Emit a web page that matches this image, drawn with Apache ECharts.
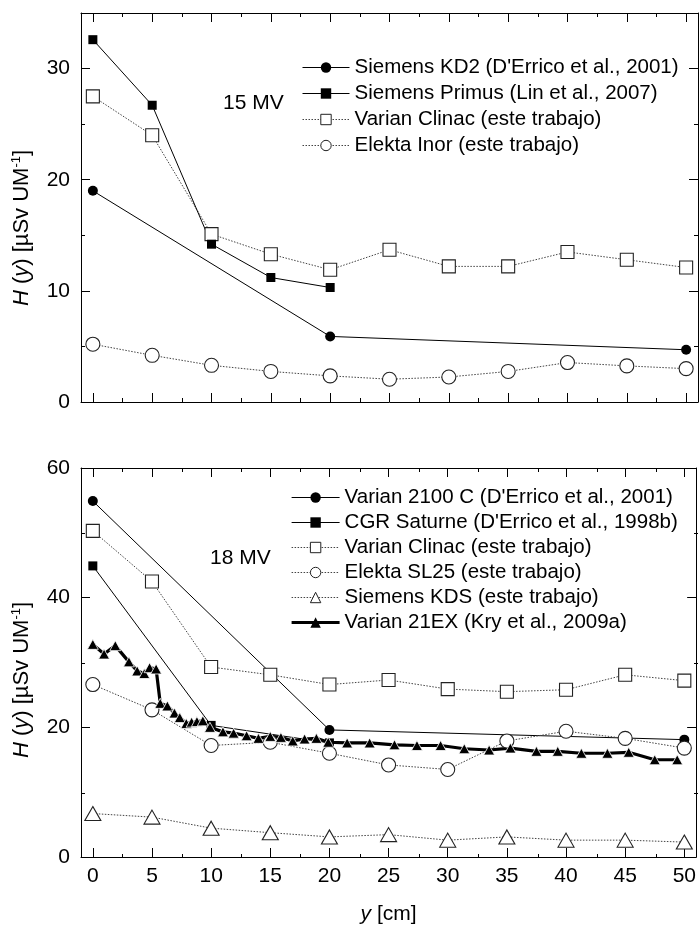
<!DOCTYPE html>
<html>
<head>
<meta charset="utf-8">
<script src="https://cdn.jsdelivr.net/npm/echarts@6/dist/echarts.min.js"></script>
<style>
html,body{margin:0;padding:0;background:#fff;}
#c{width:699px;height:926px;}
</style>
</head>
<body>
<div id="c"></div>
<script>
// ---------- tick values ----------
const xTicks = [0, 5, 10, 15, 20, 25, 30, 35, 40, 45, 50];
const xMinorTicks = [2.5, 7.5, 12.5, 17.5, 22.5, 27.5, 32.5, 37.5, 42.5, 47.5];
const yTicksTop = [0, 10, 20, 30];
const yMinorTop = [5, 15, 25];
const yTicksBottom = [0, 20, 40, 60];
const yMinorBottom = [10, 30, 50];

// ---------- 15 MV ----------
const kd2X = [0, 20, 50];
const kd2Y = [19.0, 5.9, 4.7];
const primusX = [0, 5, 10, 15, 20];
const primusY = [32.6, 26.7, 14.2, 11.2, 10.3];
const clinac15X = [0, 5, 10, 15, 20, 25, 30, 35, 40, 45, 50];
const clinac15Y = [27.5, 24.0, 15.1, 13.3, 11.9, 13.7, 12.2, 12.2, 13.5, 12.8, 12.1];
const inorX = [0, 5, 10, 15, 20, 25, 30, 35, 40, 45, 50];
const inorY = [5.2, 4.2, 3.3, 2.75, 2.35, 2.05, 2.25, 2.75, 3.55, 3.25, 3.0];

// ---------- 18 MV ----------
const v2100X = [0, 20, 50];
const v2100Y = [54.9, 19.6, 18.1];
const cgrX = [0, 10, 20];
const cgrY = [44.9, 20.3, 17.6];
const clinac18X = [0, 5, 10, 15, 20, 25, 30, 35, 40, 45, 50];
const clinac18Y = [50.3, 42.5, 29.3, 28.1, 26.6, 27.3, 25.9, 25.5, 25.8, 28.1, 27.2];
const sl25X = [0, 5, 10, 15, 20, 25, 30, 35, 40, 45, 50];
const sl25Y = [26.6, 22.7, 17.2, 17.7, 16.0, 14.2, 13.5, 17.9, 19.4, 18.3, 16.8];
const kdsX = [0, 5, 10, 15, 20, 25, 30, 35, 40, 45, 50];
const kdsY = [6.7, 6.15, 4.45, 3.75, 3.1, 3.45, 2.6, 3.1, 2.6, 2.6, 2.3];
const ex21X = [0, 0.95, 1.9, 3.05, 3.75, 4.35, 4.8, 5.35, 5.7, 6.3, 6.9, 7.35, 7.9, 8.35, 8.8, 9.3, 9.9,
  11.0, 11.9, 13.0, 14.0, 15.0, 15.9, 16.9, 17.9, 18.9, 19.9, 21.5, 23.4, 25.5, 27.4, 29.4, 31.4,
  33.5, 35.3, 37.5, 39.3, 41.3, 43.5, 45.3, 47.5, 49.4];
const ex21Y = [32.8, 31.3, 32.6, 30.1, 28.7, 28.3, 29.2, 29.0, 23.7, 23.3, 22.2, 21.5, 20.6, 20.8, 20.9, 21.0, 20.0,
  19.3, 19.1, 18.7, 18.3, 18.6, 18.45, 17.9, 18.2, 18.3, 17.7, 17.6, 17.6, 17.3, 17.2, 17.2, 16.7,
  16.5, 16.8, 16.3, 16.3, 16.0, 16.0, 16.15, 15.0, 15.0];

const FONT = 'Liberation Sans';
const zip = (xs, ys) => xs.map((x, i) => [x, ys[i]]);

const solidLine = {color: '#000', width: 1, type: 'solid'};
const dotLine = {color: '#444', width: 1, type: [1.5, 1.5]};
const thickLine = {color: '#000', width: 3.2, type: 'solid'};
const filled = {color: '#000'};
const open = {color: '#fff', borderColor: '#222', borderWidth: 1.1};

function xAx(grid, pos, ticks, len, line, labels, name) {
  const a = {
    type: 'value', gridIndex: grid, position: pos, min: -1, max: 51,
    axisLine: {show: line, onZero: false, lineStyle: {color: '#000', width: 1}},
    axisTick: {show: true, inside: true, length: len, customValues: ticks, lineStyle: {color: '#000', width: 1}},
    axisLabel: labels ? {show: true, customValues: ticks, margin: 9, fontSize: 21, fontFamily: FONT, color: '#000'} : {show: false},
    splitLine: {show: false}
  };
  if (name) {
    a.name = '{i|y} [cm]';
    a.nameLocation = 'middle';
    a.nameGap = 47;
    a.nameTextStyle = {fontSize: 21, fontFamily: FONT, color: '#000',
      rich: {i: {fontStyle: 'italic', fontSize: 21, fontFamily: FONT, color: '#000'}}};
  }
  return a;
}
function yAx(grid, pos, max, ticks, len, line, labels) {
  return {
    type: 'value', gridIndex: grid, position: pos, min: 0, max: max,
    axisLine: {show: line, onZero: false, lineStyle: {color: '#000', width: 1}},
    axisTick: {show: true, inside: true, length: len, customValues: ticks, lineStyle: {color: '#000', width: 1}},
    axisLabel: labels ? {show: true, customValues: ticks, margin: 11, fontSize: 21, fontFamily: FONT, color: '#000'} : {show: false},
    splitLine: {show: false}
  };
}

function ser(name, xs, ys, xi, yi, symbol, size, itemStyle, lineStyle) {
  return {
    name: name, type: 'line', xAxisIndex: xi, yAxisIndex: yi,
    data: zip(xs, ys), symbol: symbol, symbolSize: size, showSymbol: true,
    itemStyle: itemStyle, lineStyle: lineStyle, clip: false, silent: true,
    emphasis: {disabled: true}, animation: false
  };
}

const N = {
  kd2: "Siemens KD2 (D'Errico et al., 2001)",
  primus: 'Siemens Primus (Lin et al., 2007)',
  clinac: 'Varian Clinac (este trabajo)',
  inor: 'Elekta Inor (este trabajo)',
  v2100: "Varian 2100 C (D'Errico et al., 2001)",
  cgr: "CGR Saturne (D'Errico et al., 1998b)",
  sl25: 'Elekta SL25 (este trabajo)',
  kds: 'Siemens KDS (este trabajo)',
  ex21: 'Varian 21EX (Kry et al., 2009a)'
};

const legendOpen = {color: '#fff', borderColor: '#222', borderWidth: 1};
const legendFilled = {color: '#000', borderWidth: 0};
const lgSolid = {color: '#000', width: 1, type: 'solid'};
const lgDot = {color: '#444', width: 1, type: [1.5, 1.5]};
const lgThick = {color: '#000', width: 3.2, type: 'solid'};

const chart = echarts.init(document.getElementById('c'), null, {renderer: 'canvas'});
chart.setOption({
  animation: false,
  backgroundColor: '#fff',
  grid: [
    {left: 81, top: 13, width: 617, height: 389},
    {left: 81, top: 13, width: 617, height: 389},
    {left: 81, top: 468, width: 617, height: 390},
    {left: 81, top: 468, width: 617, height: 390}
  ],
  xAxis: [
    xAx(0, 'bottom', xTicks, 9, true, false),
    xAx(0, 'top', xTicks, 9, true, false),
    xAx(1, 'bottom', xMinorTicks, 4, false, false),
    xAx(1, 'top', xMinorTicks, 4, false, false),
    xAx(2, 'bottom', xTicks, 9, true, true, true),
    xAx(2, 'top', xTicks, 9, true, false),
    xAx(3, 'bottom', xMinorTicks, 4, false, false),
    xAx(3, 'top', xMinorTicks, 4, false, false)
  ],
  yAxis: [
    yAx(0, 'left', 35, yTicksTop, 9, true, true),
    yAx(0, 'right', 35, yTicksTop, 9, true, false),
    yAx(1, 'left', 35, yMinorTop, 4, false, false),
    yAx(1, 'right', 35, yMinorTop, 4, false, false),
    yAx(2, 'left', 60, yTicksBottom, 9, true, true),
    yAx(2, 'right', 60, yTicksBottom, 9, true, false),
    yAx(3, 'left', 60, yMinorBottom, 4, false, false),
    yAx(3, 'right', 60, yMinorBottom, 4, false, false)
  ],
  legend: [
    {
      orient: 'vertical', left: 302, top: 54.5, padding: 0, itemGap: 0,
      itemWidth: 47, itemHeight: 13, selectedMode: false,
      textStyle: {fontSize: 20.5, fontFamily: FONT, color: '#000', lineHeight: 26},
      data: [
        {name: N.kd2, itemStyle: legendFilled, lineStyle: lgSolid},
        {name: N.primus, itemStyle: legendFilled, lineStyle: lgSolid},
        {name: N.clinac, itemStyle: legendOpen, lineStyle: lgDot},
        {name: N.inor, itemStyle: legendOpen, lineStyle: lgDot}
      ]
    },
    {
      orient: 'vertical', left: 290, top: 485, padding: 0, itemGap: 0,
      itemWidth: 48, itemHeight: 13, selectedMode: false,
      textStyle: {fontSize: 20.5, fontFamily: FONT, color: '#000', lineHeight: 25},
      data: [
        {name: N.v2100, itemStyle: legendFilled, lineStyle: lgSolid},
        {name: N.cgr, itemStyle: legendFilled, lineStyle: lgSolid},
        {name: N.clinac, itemStyle: legendOpen, lineStyle: lgDot},
        {name: N.sl25, itemStyle: legendOpen, lineStyle: lgDot},
        {name: N.kds, itemStyle: legendOpen, lineStyle: lgDot},
        {name: N.ex21, itemStyle: legendFilled, lineStyle: lgThick}
      ]
    }
  ],
  graphic: [
    {type: 'text', x: 22, y: 228, rotation: Math.PI / 2, silent: true,
      style: {text: '{i|H} ({i|y}) [µSv UM{s|-1}]', align: 'center', verticalAlign: 'middle',
        textAlign: 'center', textVerticalAlign: 'middle',
        fontSize: 22, fontFamily: FONT, fill: '#000',
        rich: {i: {fontStyle: 'italic', fontSize: 22, fontFamily: FONT, fill: '#000'},
               s: {fontSize: 13, fontFamily: FONT, fill: '#000', padding: [0, 0, 11, 0]}}}},
    {type: 'text', x: 22, y: 680, rotation: Math.PI / 2, silent: true,
      style: {text: '{i|H} ({i|y}) [µSv UM{s|-1}]', align: 'center', verticalAlign: 'middle',
        textAlign: 'center', textVerticalAlign: 'middle',
        fontSize: 22, fontFamily: FONT, fill: '#000',
        rich: {i: {fontStyle: 'italic', fontSize: 22, fontFamily: FONT, fill: '#000'},
               s: {fontSize: 13, fontFamily: FONT, fill: '#000', padding: [0, 0, 11, 0]}}}},
    {type: 'text', x: 223, y: 103, silent: true,
      style: {text: '15 MV', fontSize: 21, fontFamily: FONT, fill: '#000', verticalAlign: 'middle', textVerticalAlign: 'middle'}},
    {type: 'text', x: 210, y: 558, silent: true,
      style: {text: '18 MV', fontSize: 21, fontFamily: FONT, fill: '#000', verticalAlign: 'middle', textVerticalAlign: 'middle'}}
  ],
  series: [
    // 15 MV
    ser(N.inor, inorX, inorY, 0, 0, 'circle', 14, open, dotLine),
    ser(N.clinac, clinac15X, clinac15Y, 0, 0, 'rect', 13, open, dotLine),
    ser(N.kd2, kd2X, kd2Y, 0, 0, 'circle', 10, filled, solidLine),
    ser(N.primus, primusX, primusY, 0, 0, 'rect', 9, filled, solidLine),
    // 18 MV
    ser(N.v2100, v2100X, v2100Y, 4, 4, 'circle', 10, filled, solidLine),
    ser(N.cgr, cgrX, cgrY, 4, 4, 'rect', 9, filled, solidLine),
    ser(N.clinac, clinac18X, clinac18Y, 4, 4, 'rect', 13, open, dotLine),
    ser(N.sl25, sl25X, sl25Y, 4, 4, 'circle', 14, open, dotLine),
    ser(N.kds, kdsX, kdsY, 4, 4, 'triangle', [16, 14], open, dotLine),
    ser(N.ex21, ex21X, ex21Y, 4, 4, 'triangle', [11, 10], {color: '#000', borderColor: '#fff', borderWidth: 0.8}, thickLine)
  ]
});
</script>
</body>
</html>
